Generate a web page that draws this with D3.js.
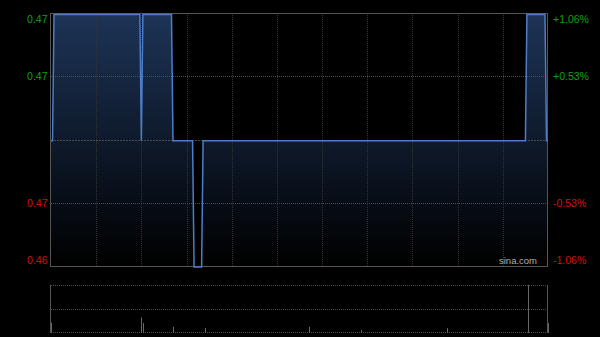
<!DOCTYPE html>
<html><head><meta charset="utf-8">
<script src="https://cdn.jsdelivr.net/npm/d3@7"></script>
<style>html,body{margin:0;padding:0;background:#000;}svg{display:block;}</style>
</head><body>
<svg id="c" width="600" height="337"></svg>
<script>
// ---- data ----
const prevClose = 0.47;
// price key points (minute index within 330-minute trading day, price)
const minutes = [0, 1, 2, 59, 60, 61, 80, 81, 94, 95, 100, 101, 315, 316, 328, 329, 330];
const prices  = [0.47, 0.47, 0.475, 0.475, 0.47, 0.475, 0.475, 0.47, 0.47, 0.465, 0.465, 0.47, 0.47, 0.475, 0.475, 0.47, 0.47];
// volume bars
const volMinutes = [0, 60, 61, 81, 102, 171, 206, 263, 317, 330];
const volValues  = [20, 31, 19, 11, 8.5, 11, 4, 8.5, 100, 19];
// axis ticks
const pctTicks = [1.06, 0.53, -0.53, -1.06];
const leftLabels = ["0.47", "0.47", "0.47", "0.46"];
const rightLabels = ["+1.06%", "+0.53%", "-0.53%", "-1.06%"];
const vGridCount = 11;

// ---- layout ----
const L = 51, R = 548, T = 13, B = 266;
const VT = 285, VB = 332;
const svg = d3.select("#c");
svg.append("rect").attr("width", 600).attr("height", 337).attr("fill", "#000");

const x = d3.scaleLinear().domain([0, 330]).range([L, R]);
const y = d3.scaleLinear().domain([-1.06, 1.06]).range([B + 0.5, T + 2]);
const gy0 = d3.scaleLinear().domain([-1.06, 1.06]).range([B, T]);
const pct = p => (p - prevClose) / prevClose * 100;

const defs = svg.append("defs");
const g = defs.append("linearGradient").attr("id", "fillg")
  .attr("gradientUnits", "userSpaceOnUse").attr("x1", 0).attr("y1", T).attr("x2", 0).attr("y2", B);
g.append("stop").attr("offset", 0).attr("stop-color", "#1d3457");
g.append("stop").attr("offset", 1).attr("stop-color", "#000000");

const pts = minutes.map((m, i) => ({ m, p: pct(prices[i]) }));

// area
svg.append("path").datum(pts)
  .attr("d", d3.area().x(d => x(d.m)).y0(B).y1(d => y(d.p)))
  .attr("fill", "url(#fillg)");

// grid
const gridG = svg.append("g");
for (let k = 1; k < vGridCount; k++) {
  const gx = Math.round(x(330 * k / vGridCount)) + 0.5;
  gridG.append("line").attr("x1", gx).attr("x2", gx).attr("y1", T).attr("y2", B)
    .attr("stroke", "#333").attr("stroke-dasharray", "1,1");
}
[0.53, -0.53].forEach(v => {
  const gy = Math.round(gy0(v)) + 0.5;
  gridG.append("line").attr("x1", L).attr("x2", R).attr("y1", gy).attr("y2", gy)
    .attr("stroke", "#4c4c4c").attr("stroke-dasharray", "1,1");
});
{
  const gy = Math.round(gy0(0)) + 0.5;
  gridG.append("line").attr("x1", L).attr("x2", R).attr("y1", gy).attr("y2", gy)
    .attr("stroke", "#4c4c4c").attr("stroke-dasharray", "2,1");
}

// border
svg.append("rect").attr("x", L - 0.5).attr("y", T + 0.5).attr("width", R - L).attr("height", B - T)
  .attr("fill", "none").attr("stroke", "#555");

// line
svg.append("path").datum(pts)
  .attr("d", d3.line().x(d => x(d.m)).y(d => y(d.p)))
  .attr("fill", "none").attr("stroke", "#4d7cc8").attr("stroke-width", 1.5);

// labels
const labelY = [T + 10, gy0(0.53) + 4, gy0(-0.53) + 4, B - 2];
pctTicks.forEach((v, i) => {
  const col = v > 0 ? "#12a012" : "#d41010";
  svg.append("text").attr("x", 47.5).attr("y", labelY[i]).attr("text-anchor", "end")
    .attr("font-family", "Liberation Sans, Arial, sans-serif").attr("font-size", 10.5)
    .attr("fill", col).text(leftLabels[i]);
  svg.append("text").attr("x", 553).attr("y", labelY[i]).attr("text-anchor", "start")
    .attr("font-family", "Liberation Sans, Arial, sans-serif").attr("font-size", 10.5)
    .attr("fill", col).text(rightLabels[i]);
});

svg.append("text").attr("x", 537).attr("y", 264).attr("text-anchor", "end")
  .attr("font-family", "Liberation Sans, Arial, sans-serif").attr("font-size", 9.5)
  .attr("fill", "#b0b0b0").text("sina.com");

// volume panel
const vy = d3.scaleLinear().domain([0, d3.max(volValues)]).range([VB, VT]);
[VT, (VT + VB) / 2, VB].forEach(gy => {
  const yy = Math.round(gy) + 0.5;
  svg.append("line").attr("x1", L).attr("x2", R).attr("y1", yy).attr("y2", yy)
    .attr("stroke", "#4c4c4c").attr("stroke-dasharray", "1,1");
});
svg.append("line").attr("x1", L - 0.5).attr("x2", L - 0.5).attr("y1", VT).attr("y2", VB + 1).attr("stroke", "#555");
svg.append("line").attr("x1", R - 0.5).attr("x2", R - 0.5).attr("y1", VT).attr("y2", VB + 1).attr("stroke", "#555");
volMinutes.forEach((m, i) => {
  const bx = Math.round(x(m)) + 0.5;
  svg.append("line").attr("x1", bx).attr("x2", bx).attr("y1", VB + 1).attr("y2", vy(volValues[i]))
    .attr("stroke", "#666").attr("stroke-width", 1);
});
</script>
</body></html>
